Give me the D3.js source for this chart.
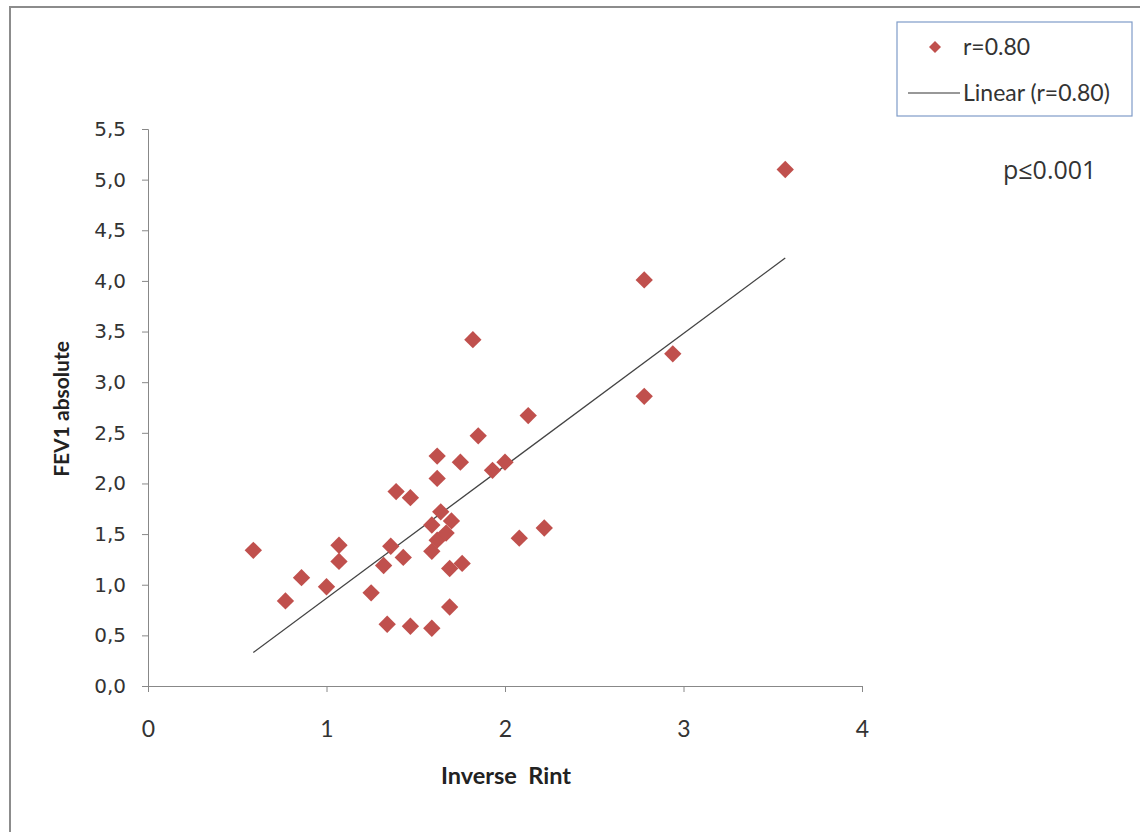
<!DOCTYPE html>
<html>
<head>
<meta charset="utf-8">
<script src="https://cdn.jsdelivr.net/npm/d3@7"></script>
<style>
  body { margin: 0; background: #fff; }
  svg { display: block; }
</style>
</head>
<body>
<div id="chart"></div>
<script>
// Data: inverse Rint vs FEV1 absolute
const rint = [0.59, 0.77, 0.86, 1.00, 1.07, 1.07, 1.25, 1.32, 1.36, 1.34,
              1.39, 1.43, 1.47, 1.47, 1.59, 1.59, 1.59, 1.62, 1.62, 1.64,
              1.62, 1.67, 1.70, 1.69, 1.69, 1.76, 1.75, 1.82, 1.85, 1.93,
              2.00, 2.13, 2.08, 2.22, 2.78, 2.78, 2.94, 3.57];
const fev1 = [1.34, 0.84, 1.07, 0.98, 1.39, 1.23, 0.92, 1.19, 1.38, 0.61,
              1.92, 1.27, 1.86, 0.59, 0.57, 1.33, 1.59, 2.27, 2.05, 1.72,
              1.44, 1.51, 1.63, 1.16, 0.78, 1.21, 2.21, 3.42, 2.47, 2.13,
              2.21, 2.67, 1.46, 1.56, 4.01, 2.86, 3.28, 5.10];

// Trend line as shown in the chart
const trendSlope = 1.307;
const trendIntercept = -0.44;

const xTicks = [0, 1, 2, 3, 4];
const yTicks = [0, 0.5, 1, 1.5, 2, 2.5, 3, 3.5, 4, 4.5, 5, 5.5];

const width = 1140;
const height = 832;

const svg = d3.select("#chart").append("svg")
    .attr("width", width)
    .attr("height", height);

// Chart frame
svg.append("rect")
    .attr("x", 10).attr("y", 7)
    .attr("width", 1140).attr("height", 840)
    .attr("fill", "#fff")
    .attr("stroke", "#8c8c8c")
    .attr("stroke-width", 2);

const x = d3.scaleLinear().domain([0, 4]).range([148, 862]);
const y = d3.scaleLinear().domain([0, 5.5]).range([686, 129]);

// X axis
const xAxis = svg.append("g")
    .attr("transform", `translate(0,${y(0)})`)
    .call(d3.axisBottom(x).tickValues(xTicks).tickSize(6).tickPadding(29).tickFormat(d3.format("d")));
xAxis.select(".domain").attr("stroke", "#888");
xAxis.selectAll(".tick line").attr("stroke", "#888");
xAxis.selectAll("text")
    .attr("font-family", "Lato, 'Open Sans', sans-serif")
    .attr("font-size", 23)
    .attr("fill", "#333");

// Y axis
const yAxis = svg.append("g")
    .attr("transform", `translate(${x(0)},0)`)
    .call(d3.axisLeft(y).tickValues(yTicks).tickSize(6).tickPadding(16)
        .tickFormat(d => d3.format(".1f")(d).replace(".", ",")));
yAxis.select(".domain").attr("stroke", "#888");
yAxis.selectAll(".tick line").attr("stroke", "#888");
yAxis.selectAll("text")
    .attr("font-family", "'DejaVu Sans', sans-serif")
    .attr("font-size", 20)
    .attr("fill", "#333");

// Axis titles
svg.append("text")
    .attr("x", 506).attr("y", 784)
    .attr("text-anchor", "middle")
    .attr("font-family", "Lato, sans-serif")
    .attr("font-weight", "bold")
    .attr("font-size", 23.5)
    .attr("fill", "#222")
    .attr("xml:space", "preserve")
    .text("Inverse  Rint");

svg.append("text")
    .attr("transform", "translate(69,409) rotate(-90)")
    .attr("text-anchor", "middle")
    .attr("font-family", "Lato, sans-serif")
    .attr("font-weight", "bold")
    .attr("font-size", 21)
    .attr("fill", "#222")
    .text("FEV1 absolute");

// Trend line
const xMin = d3.min(rint), xMax = d3.max(rint);
svg.append("line")
    .attr("x1", x(xMin)).attr("y1", y(trendSlope * xMin + trendIntercept))
    .attr("x2", x(xMax)).attr("y2", y(trendSlope * xMax + trendIntercept))
    .attr("stroke", "#444")
    .attr("stroke-width", 1.3);

// Points
const diamond = d3.symbol().type(d3.symbolSquare).size(150);
svg.append("g").selectAll("path")
    .data(rint.map((d, i) => [d, fev1[i]]))
    .join("path")
    .attr("d", diamond)
    .attr("transform", d => `translate(${x(d[0])},${y(d[1])}) rotate(45)`)
    .attr("fill", "#c0504d");

// Legend
const legend = svg.append("g");
legend.append("rect")
    .attr("x", 897).attr("y", 22)
    .attr("width", 235).attr("height", 94)
    .attr("fill", "#fff")
    .attr("stroke", "#7f9cc8")
    .attr("stroke-width", 1.2);
legend.append("path")
    .attr("d", d3.symbol().type(d3.symbolSquare).size(72))
    .attr("transform", "translate(935,47) rotate(45)")
    .attr("fill", "#c0504d");
legend.append("text")
    .attr("x", 963).attr("y", 55)
    .attr("font-family", "Lato, sans-serif")
    .attr("font-size", 23)
    .attr("fill", "#333")
    .text("r=0.80");
legend.append("line")
    .attr("x1", 908).attr("x2", 960)
    .attr("y1", 93).attr("y2", 93)
    .attr("stroke", "#333")
    .attr("stroke-width", 1.2);
legend.append("text")
    .attr("x", 963).attr("y", 101)
    .attr("font-family", "Lato, sans-serif")
    .attr("font-size", 23)
    .attr("fill", "#333")
    .text("Linear (r=0.80)");

// p-value annotation
svg.append("text")
    .attr("x", 1003).attr("y", 179)
    .attr("font-family", "'Open Sans', sans-serif")
    .attr("font-size", 25)
    .attr("fill", "#333")
    .text("p≤0.001");
</script>
</body>
</html>
